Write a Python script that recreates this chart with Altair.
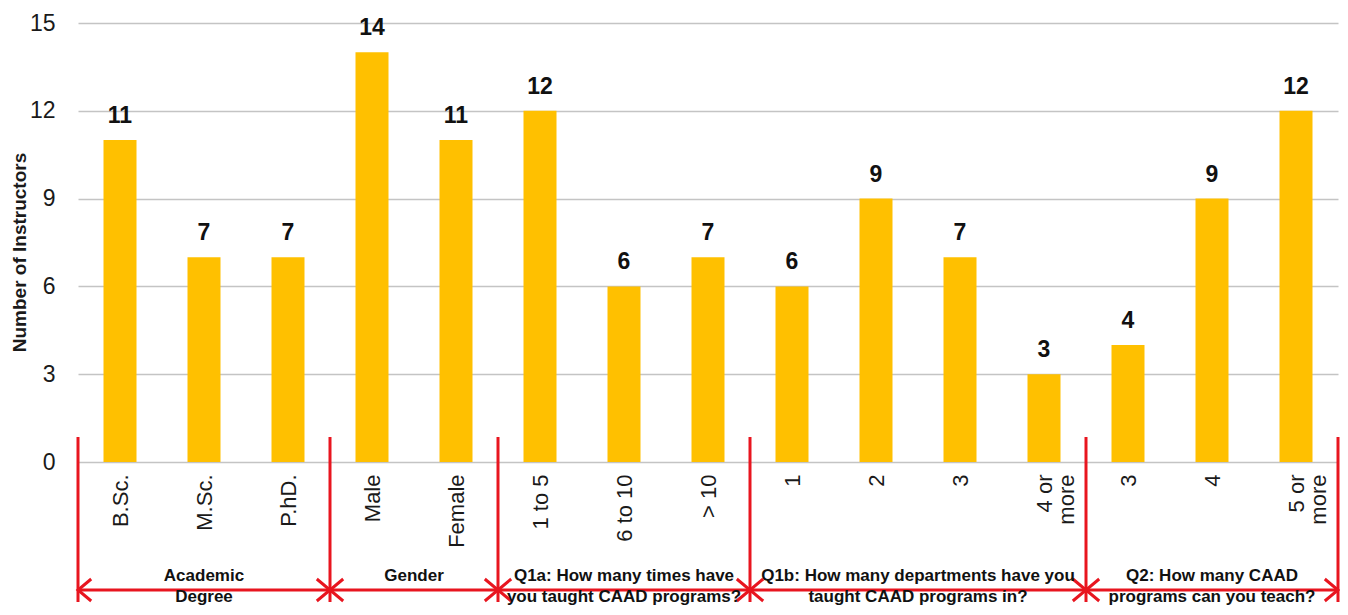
import altair as alt
import pandas as pd

# ---- data ----
categories = ["B.Sc.", "M.Sc.", "P.hD.", "Male", "Female", "1 to 5", "6 to 10", "> 10",
              "1", "2", "3", "4 or|more", "3", "4", "5 or|more"]
counts = [11, 7, 7, 14, 11, 12, 6, 7, 6, 9, 7, 3, 4, 9, 12]
group_names = ["Academic|Degree", "Gender",
               "Q1a: How many times have|you taught CAAD programs?",
               "Q1b: How many departments have you|taught CAAD programs in?",
               "Q2: How many CAAD|programs can you teach?"]
group_sizes = [3, 2, 3, 4, 3]
y_ticks = [0, 3, 6, 9, 12, 15]

FONT = "Liberation Sans"
RED = "#E8151F"
BAR = "#FFC000"

n = len(categories)
bars_df = pd.DataFrame({"x": [i + 0.5 for i in range(n)], "count": counts})

bounds = [0]
for s in group_sizes:
    bounds.append(bounds[-1] + s)
sep_df = pd.DataFrame({"x": bounds})
grp_df = pd.DataFrame({
    "x": [(bounds[i] + bounds[i + 1]) / 2 for i in range(len(group_sizes))],
    "start": bounds[:-1],
    "end": bounds[1:],
    "name": group_names,
})

label_arr = "[" + ",".join("'" + c + "'" for c in categories) + "]"
x_axis = alt.Axis(values=[i + 0.5 for i in range(n)],
                  labelExpr=f"split({label_arr}[floor(datum.value)], '|')",
                  labelAngle=-90, labelFont=FONT, labelFontSize=22, labelColor="#1a1a1a",
                  labelPadding=12, labelLineHeight=22, labelOverlap=False, labelFlush=False,
                  domain=False, ticks=False, grid=False, title=None)
xs = alt.Scale(domain=[0, n], nice=False, zero=False, padding=0)
ys = alt.Scale(domain=[0, 15], nice=False)

X = alt.X("x:Q", scale=xs, axis=x_axis)

bars = alt.Chart(bars_df).mark_bar(size=33, color=BAR).encode(
    x=X,
    y=alt.Y("count:Q", scale=ys,
            axis=alt.Axis(values=y_ticks, title="Number of Instructors",
                          titleFont=FONT, titleFontSize=19, titleFontWeight="bold",
                          titleColor="#1a1a1a", titlePadding=0, titleY=229,
                          labelFont=FONT, labelFontSize=23, labelColor="#1a1a1a",
                          labelPadding=23, ticks=False, domain=False,
                          grid=True, gridColor="#C4C4C4", gridWidth=1.5)),
)

values = alt.Chart(bars_df).mark_text(font=FONT, fontSize=23, fontWeight="bold",
                                      color="#111111", baseline="alphabetic", dy=-17).encode(
    x=X, y=alt.Y("count:Q", scale=ys), text="count:Q")

seps = alt.Chart(sep_df).mark_rule(color=RED, strokeWidth=3).encode(
    x=X, y=alt.value(414), y2=alt.value(579))

arrow_line = alt.Chart(grp_df).mark_rule(color=RED, strokeWidth=3).encode(
    x=alt.X("start:Q", scale=xs), x2="end:Q", y=alt.value(567))

left_heads = alt.Chart(grp_df).mark_point(
    shape="M1.2,-1 L0,0 L1.2,1", filled=False, stroke=RED, strokeWidth=3, size=484, opacity=1
).encode(x=alt.X("start:Q", scale=xs), y=alt.value(567))

right_heads = alt.Chart(grp_df).mark_point(
    shape="M-1.2,-1 L0,0 L-1.2,1", filled=False, stroke=RED, strokeWidth=3, size=484, opacity=1
).encode(x=alt.X("end:Q", scale=xs), y=alt.value(567))

group_text = alt.Chart(grp_df).mark_text(font=FONT, fontSize=17, fontWeight="bold",
                                         color="#111111", baseline="top", lineBreak="|",
                                         lineHeight=21).encode(
    x=X, y=alt.value(545), text="name:N")

chart = alt.layer(bars, values, seps, arrow_line, left_heads, right_heads, group_text).properties(
    width=1260, height=439,
    autosize=alt.AutoSizeParams(type="none"),
    padding={"left": 70, "top": 15, "right": 2, "bottom": 145},
).configure_view(stroke=None).configure_axis(labelFont=FONT, titleFont=FONT)

chart.save("out.html", embed_options={"renderer": "svg", "actions": False})
